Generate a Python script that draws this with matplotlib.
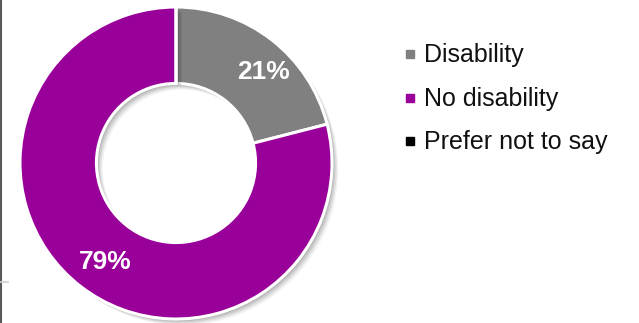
import matplotlib
matplotlib.use("Agg")
import matplotlib.pyplot as plt
from matplotlib.lines import Line2D
from matplotlib import patheffects as pe
import numpy as np

plt.rcParams['font.family'] = ['Liberation Sans', 'DejaVu Sans']

categories = ["Disability", "No disability", "Prefer not to say"]
values = [21, 79, 0]
colors = ["#808080", "#990099", "#000000"]

W, H = 639, 323
fig = plt.figure(figsize=(W / 100, H / 100), dpi=100)

# donut axes: centre ~ (176, 163) px, outer radius ~ 156 px
cx, cy, R = 176, 163, 156
ax = fig.add_axes([(cx - R) / W, 1 - (cy + R) / H, 2 * R / W, 2 * R / H])

# soft drop shadow made from stacked offset copies
shadow_fx = [
    pe.SimplePatchShadow(offset=(o, -o), shadow_rgbFace="#000000", alpha=a)
    for o, a in [(4.5, 0.05), (3.5, 0.07), (2.5, 0.09), (1.5, 0.1)]
]

wedges, _ = ax.pie(
    values, colors=colors, startangle=90, counterclock=False, radius=1.0,
    wedgeprops=dict(width=0.49, edgecolor="white", linewidth=2.2),
)
for w in wedges:
    w.set_path_effects(shadow_fx + [pe.Normal()])

ax.set_xlim(-1, 1)
ax.set_ylim(-1, 1)
ax.set_aspect("equal")
ax.axis("off")

# percentage labels placed inside the ring, nudged along the arc
label_nudge_deg = [-6, 2, 0]
label_radius = [0.81, 0.78, 0.78]
start = 90.0
total = sum(values)
for v, nudge, r in zip(values, label_nudge_deg, label_radius):
    sweep = 360.0 * v / total
    if v > 0:
        mid = np.deg2rad(start - sweep / 2 + nudge)
        ax.text(r * np.cos(mid), r * np.sin(mid), f"{v}%", color="white",
                fontsize=19, fontweight="bold", ha="center", va="center")
    start -= sweep

# legend
rows_y = [55, 99, 142]
for name, col, y in zip(categories, colors, rows_y):
    fig.add_artist(Line2D([410 / W], [1 - (y - 1) / H], marker="s", markersize=6,
                          color=col, linestyle="none", transform=fig.transFigure))
    fig.text(424 / W, 1 - y / H, name, fontsize=18, color="#111111",
             ha="left", va="center")

# left frame edge and tick
fig.add_artist(Line2D([1.2 / W, 1.2 / W], [0, 1], color="#595959", linewidth=1.5,
                      transform=fig.transFigure))
fig.add_artist(Line2D([0, 8 / W], [1 - 282 / H, 1 - 282 / H], color="#d0d0d0",
                      linewidth=1.2, transform=fig.transFigure))

fig.savefig("out.png", dpi=100)
